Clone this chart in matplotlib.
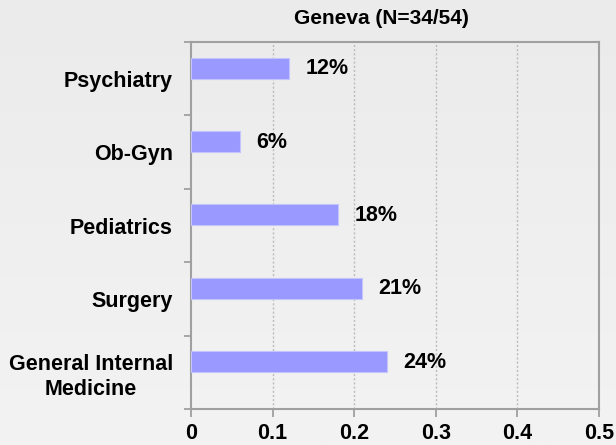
import matplotlib
matplotlib.use("Agg")
import matplotlib.pyplot as plt
import numpy as np

plt.rcParams['font.family'] = ['Liberation Sans', 'DejaVu Sans']

categories = ["General Internal\nMedicine", "Surgery", "Pediatrics", "Ob-Gyn", "Psychiatry"]
values = [0.24, 0.21, 0.18, 0.06, 0.12]
labels = ["24%", "21%", "18%", "6%", "12%"]
xticks = [0, 0.1, 0.2, 0.3, 0.4, 0.5]
title = "Geneva (N=34/54)"

W, H = 616, 445
fig = plt.figure(figsize=(W / 100, H / 100), dpi=100)

# soft vertical gradient behind everything
bg = fig.add_axes([0, 0, 1, 1], zorder=-10)
grad = np.linspace(0, 1, 256).reshape(-1, 1)
bg.imshow(grad, aspect='auto', cmap=matplotlib.colors.LinearSegmentedColormap.from_list(
    "bg", ["#f3f3f3", "#ebebeb"]), origin='lower', extent=[0, 1, 0, 1])
bg.axis('off')

ax = fig.add_axes([191 / W, 1 - 409 / H, (599 - 191) / W, (409 - 42) / H])
ax.set_facecolor('none')

FS = 15.5
y = np.arange(len(categories))
bar_y = y + 0.145  # series sits in the upper slot of each category band
ax.barh(bar_y, values, height=0.285, color="#9999ff", edgecolor="#c4c4ff", linewidth=0.8, zorder=3)
for yi, v, lab in zip(bar_y, values, labels):
    ax.text(v + 0.02, yi - 0.01, lab, va='center', ha='left', fontsize=FS,
            fontweight='bold', color='black', zorder=4)

ax.set_xlim(0, 0.5)
ax.set_ylim(-0.5, len(categories) - 0.5)
ax.set_xticks(xticks)
ax.set_xticklabels(["0" if t == 0 else f"{t:.1f}" for t in xticks], fontsize=FS, fontweight='bold')
ax.set_yticks(y)
ax.set_yticklabels(categories, fontsize=FS, fontweight='bold', linespacing=1.25,
                   multialignment='center')
ax.tick_params(axis='y', length=0, pad=13)
ax.set_yticks(np.arange(-0.5, len(categories)), minor=True)
ax.tick_params(axis='y', which='minor', length=5, color='#999999', width=1.2)
ax.tick_params(axis='x', length=6, color='#999999', width=1.2, pad=4)

for t in xticks[1:-1]:
    ax.axvline(t, color='#bbbbbb', linestyle=(0, (1.5, 1.5)), linewidth=1, zorder=1)

for s in ax.spines.values():
    s.set_color('#a0a0a0')
    s.set_linewidth(1.5)

fig.text(381 / W, 1 - 18 / H, title, ha='center', va='center', fontsize=15, fontweight='bold')

fig.savefig("out.png", dpi=100)
